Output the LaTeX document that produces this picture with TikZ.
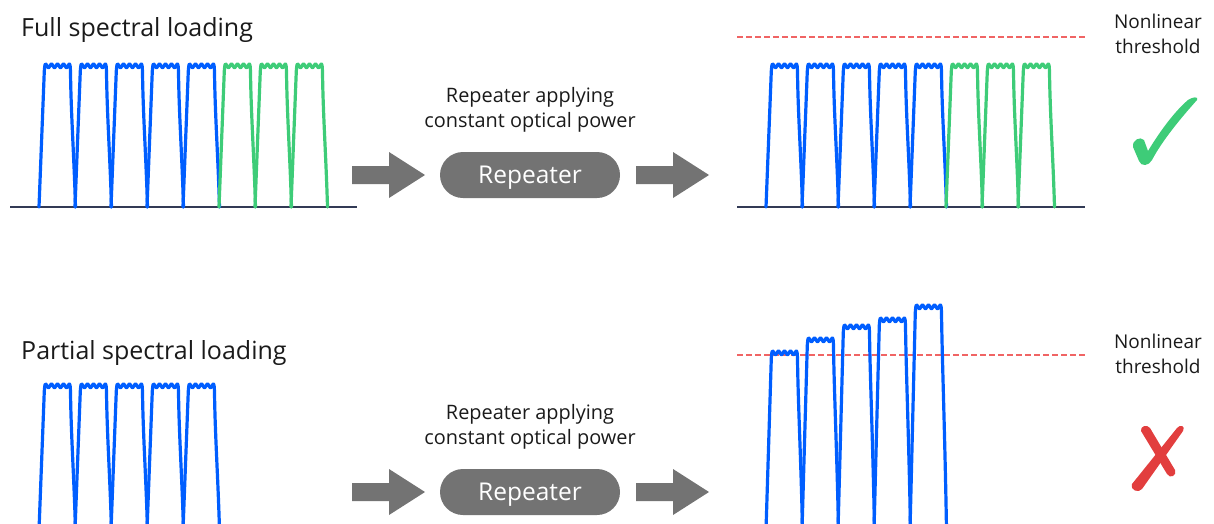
\documentclass[tikz,border=0pt]{standalone}
\usepackage{fontspec}
\setmainfont{Open Sans}
\definecolor{chblue}{RGB}{0,94,255}
\definecolor{chgreen}{RGB}{62,204,120}
\definecolor{okgreen}{RGB}{62,204,120}
\definecolor{badred}{RGB}{226,62,62}
\definecolor{limitred}{RGB}{240,100,100}
\definecolor{blockgray}{RGB}{115,115,115}
\definecolor{axisnavy}{RGB}{50,58,85}
\definecolor{txt}{RGB}{26,26,26}

% one optical channel: left foot x, top level, bottom level, colour
\newcommand\spchannel[4]{%
  \draw[chan,#4] (#1,#3) -- ({#1+5.3},{#2+7})
    .. controls ({#1+5.8},{#2+1}) and ({#1+6},{#2}) .. ({#1+6.5},{#2})
    -- plot[domain=0:24,samples=49,smooth] ({#1+6.5+\x},{#2+1.8*(1-cos(60*\x))})
    .. controls ({#1+31},{#2}) and ({#1+31.3},{#2+2}) .. ({#1+31.5},{#2+8})
    .. controls ({#1+32},{#2+50}) and ({#1+35},{(#3+#2)/2+20}) .. ({#1+36.5},{#3});}

% block arrow pointing right, from x=#1 at centre height #2
\newcommand\blockarrow[2]{%
  \fill[blockgray] (#1,{#2-9}) -- ({#1+37},{#2-9}) -- ({#1+37},{#2-23})
    -- ({#1+73},{#2}) -- ({#1+37},{#2+23}) -- ({#1+37},{#2+9}) -- (#1,{#2+9}) -- cycle;}

\begin{document}
\begin{tikzpicture}[x=1pt,y=-1pt,
  chan/.style={line width=3.2pt,line join=round,line cap=round},
  axis/.style={draw=axisnavy,line width=1.5pt},
  limit/.style={draw=limitred,line width=1.2pt,dash pattern=on 6pt off 3pt},
  title/.style={font=\fontsize{25}{30}\selectfont,text=txt,anchor=base west,inner sep=0pt},
  caption/.style={font=\fontsize{19.9}{24}\selectfont,text=txt,anchor=base,inner sep=0pt},
  sidenote/.style={font=\fontsize{19}{24}\selectfont,text=txt,anchor=base,inner sep=0pt},
  pill/.style={fill=blockgray,rounded corners=23pt,minimum width=180pt,minimum height=46pt,
    inner sep=0pt},
  pilltext/.style={font=\fontsize{24.5}{30}\selectfont,text=white,anchor=base,inner sep=0pt}]
\useasboundingbox (0,0) rectangle (1214,523);
\clip (0,0) rectangle (1214,523);

% ---------- full spectral loading ----------
\node[title] (fulltitle) at (21,36) {Full spectral loading};
\draw[axis] (10,207) -- (357,207);
\foreach \k in {0,...,4} {\spchannel{39+36*\k}{64}{207}{chblue}}
\foreach \k in {5,6,7} {\spchannel{39+36*\k}{64}{207}{chgreen}}

\node[caption] (cap1a) at (530,102) {Repeater applying};
\node[caption] (cap1b) at (530,127) {constant optical power};
\blockarrow{352}{175}
\node[pill] (rep1) at (530,175) {};
\node[pilltext] (rep1label) at (530,183.3) {Repeater};
\blockarrow{636}{175}

\draw[limit] (737,37) -- (1085,37);
\draw[axis] (737,207) -- (1085,207);
\foreach \k in {0,...,4} {\spchannel{766+36*\k}{64}{207}{chblue}}
\foreach \k in {5,6,7} {\spchannel{766+36*\k}{64}{207}{chgreen}}

\node[sidenote] (nl1a) at (1158,28.3) {Nonlinear};
\node[sidenote] (nl1b) at (1158,53.3) {threshold};

% check mark
\fill[okgreen] (1133,147) .. controls (1132,140) and (1140,136) .. (1144,140)
  -- (1148,151) .. controls (1160,131) and (1175,111) .. (1188,100)
  .. controls (1192,97) and (1199,96) .. (1197,100)
  .. controls (1180,119) and (1162,141) .. (1152,160)
  .. controls (1149,166) and (1141,167) .. (1139,161) -- cycle;

% ---------- partial spectral loading ----------
\node[title] (parttitle) at (21,359.5) {Partial spectral loading};
\foreach \k in {0,...,4} {\spchannel{39+36*\k}{384}{530}{chblue}}

\node[caption] (cap2a) at (530,419) {Repeater applying};
\node[caption] (cap2b) at (530,444) {constant optical power};
\blockarrow{352}{492}
\node[pill] (rep2) at (530,492) {};
\node[pilltext] (rep2label) at (530,500.3) {Repeater};
\blockarrow{636}{492}

\draw[limit] (737,355) -- (1085,355);
\spchannel{766}{351}{530}{chblue}
\spchannel{802}{338}{530}{chblue}
\spchannel{838}{325}{530}{chblue}
\spchannel{874}{318}{530}{chblue}
\spchannel{910}{305}{530}{chblue}

\node[sidenote] (nl2a) at (1158,348.3) {Nonlinear};
\node[sidenote] (nl2b) at (1158,373.3) {threshold};

% cross
\fill[badred] (1141,431) .. controls (1140,426) and (1147,424) .. (1150,428)
  -- (1175,470) .. controls (1177,476) and (1170,479) .. (1167,474) -- cycle;
\fill[badred] (1177,428) .. controls (1180,424) and (1186,426) .. (1183,431)
  -- (1142,489) .. controls (1139,493) and (1130,491) .. (1132,484) -- cycle;
\end{tikzpicture}
\end{document}
